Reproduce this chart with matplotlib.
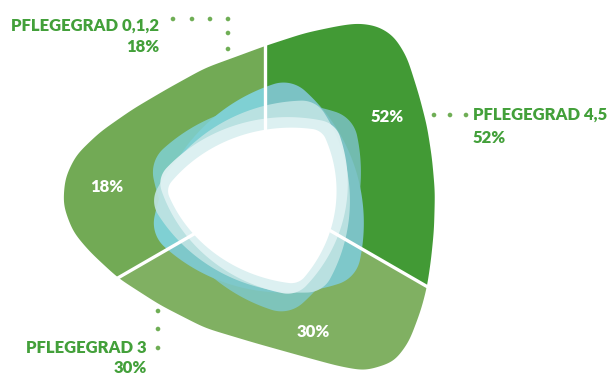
import numpy as np
import matplotlib
matplotlib.use("Agg")
import matplotlib.pyplot as plt
from matplotlib.patches import Polygon, Circle

# ---- data ----
categories = ["PFLEGEGRAD 0,1,2", "PFLEGEGRAD 4,5", "PFLEGEGRAD 3"]
values = [18, 52, 30]
seg_colors = ["#72aa55", "#429a35", "#80b062"]
teal_colors = ["#7fd0d3", "#7bc2c4", "#7ec8ca"]

W, H = 614, 376
fig = plt.figure(figsize=(W / 100, H / 100), dpi=100)
ax = fig.add_axes([0, 0, 1, 1])
ax.set_xlim(0, W)
ax.set_ylim(H, 0)
ax.axis("off")

FONT = ["Lato", "DejaVu Sans"]
WEIGHT = "heavy"
TXT = "#43a03a"
DOT = "#6fae55"
CX, CY = 265, 193


def smooth_contour(pts, sigma=9.0):
    p = np.asarray(pts, float)
    p = np.vstack([p, p[:1]])
    seg = np.hypot(*np.diff(p, axis=0).T)
    s = np.concatenate([[0], np.cumsum(seg)])
    L = s[-1]
    n = int(L)
    t = np.linspace(0, L, n, endpoint=False)
    x = np.interp(t, s, p[:, 0])
    y = np.interp(t, s, p[:, 1])
    k = np.arange(-int(4 * sigma), int(4 * sigma) + 1)
    g = np.exp(-0.5 * (k / sigma) ** 2)
    g /= g.sum()
    xs = np.array([np.dot(g, np.take(x, i + k, mode="wrap")) for i in range(n)])
    ys = np.array([np.dot(g, np.take(y, i + k, mode="wrap")) for i in range(n)])
    return np.column_stack([xs, ys])


def reuleaux(cx, cy, width, rho, phi, sx=1.0, sy=1.0):
    s = width - 2 * rho
    a = s / np.sqrt(3)
    betas = np.deg2rad(phi + 120 * np.arange(3))
    V = np.column_stack([a * np.cos(betas), a * np.sin(betas)])
    psi = np.linspace(0, 2 * np.pi, 720, endpoint=False)
    out = []
    for ps in psi:
        u = np.array([np.cos(ps), np.sin(ps)])
        d = (ps - betas + np.pi) % (2 * np.pi) - np.pi
        i = np.argmin(np.abs(d))
        if abs(d[i]) <= np.pi / 6:
            q = V[i] + rho * u
        else:
            d2 = (ps - betas) % (2 * np.pi) - np.pi
            j = np.argmin(np.abs(d2))
            q = V[j] + (s + rho) * u
        out.append(q)
    q = np.array(out)
    return np.column_stack([cx + sx * q[:, 0], cy - sy * q[:, 1]])


def wedge_clip(a0, a1):
    th = np.deg2rad(np.linspace(a0, a1, 60))
    wedge = np.vstack([[CX, CY], np.column_stack([CX + 600 * np.cos(th), CY - 600 * np.sin(th)])])
    return Polygon(wedge, closed=True, transform=ax.transData)


# outer contour of the ring (layout)
outer = [(265, 46), (305, 33), (338, 26), (358, 23), (378, 26), (394, 36), (407, 57),
         (419, 95), (427, 126), (432, 158), (435, 192), (434, 230), (431, 260),
         (427, 287), (421, 310), (409, 342), (394, 362), (365, 371), (338, 366),
         (305, 357), (255, 343), (205, 328), (160, 305), (118, 278), (90, 252),
         (73, 232), (63, 205), (65, 178), (76, 155), (100, 132), (133, 109),
         (167, 89), (205, 68), (238, 56)]
outer_xy = smooth_contour(outer, sigma=8)

# segment wedges: 18% from 90..210, 52% from -30..90, 30% from 210..330
seg_angles = [(90, 210), (-30, 90), (210, 330)]
teal_shapes = [reuleaux(266, 197, 210, 32, 78), reuleaux(264, 198, 208, 32, -78)]
for (a0, a1), col, tcol in zip(seg_angles, seg_colors, teal_colors):
    p = Polygon(outer_xy, closed=True, facecolor=col, edgecolor="none", zorder=1)
    ax.add_patch(p)
    p.set_clip_path(wedge_clip(a0, a1))
    for i, xy in enumerate(teal_shapes):
        tp = Polygon(xy, closed=True, facecolor=tcol, edgecolor="none",
                     alpha=1.0 if i == 0 else 0.85, zorder=2)
        ax.add_patch(tp)
        tp.set_clip_path(wedge_clip(a0, a1))

# lighter inner layers
layers = [
    (reuleaux(263, 198, 192, 26, 62, sx=1.02), "#bfe3e3", 0.92),
    (reuleaux(263, 199, 182, 24, 48, sx=1.03, sy=0.97), "#dff1f2", 0.95),
]
for xy, col, al in layers:
    ax.add_patch(Polygon(xy, closed=True, facecolor=col, edgecolor="none", alpha=al, zorder=2.5))

# separators
for a in (90, 210, 330):
    t = np.deg2rad(a)
    ax.plot([CX + 60 * np.cos(t), CX + 260 * np.cos(t)],
            [CY - 60 * np.sin(t), CY - 260 * np.sin(t)],
            color="white", lw=2.4, solid_capstyle="butt", zorder=3)

# white hole
ax.add_patch(Polygon(reuleaux(262, 201, 162, 16, 52, sx=1.04, sy=0.96), closed=True,
                     facecolor="white", edgecolor="none", zorder=4))

# percentages inside
inside_pos = [(107, 187), (387, 117), (313, 332)]
for (x, y), v in zip(inside_pos, values):
    ax.text(x, y, f"{v}%", color="white", fontsize=12, fontweight=WEIGHT,
            family=FONT, ha="center", va="center", zorder=5)

# outside labels
lab_pos = [(159, 26, "right", 21), (473, 115, "left", 23), (147, 348, "right", 20)]
for (x, y, ha, dy), c, v in zip(lab_pos, categories, values):
    ax.text(x, y, c, color=TXT, fontsize=12, fontweight=WEIGHT, family=FONT,
            ha=ha, va="center", zorder=5)
    ax.text(x, y + dy, f"{v}%", color=TXT, fontsize=12, fontweight=WEIGHT, family=FONT,
            ha=ha, va="center", zorder=5)

# dotted leaders
dots = [(173, 19), (192, 19), (210, 19), (228, 19), (228, 33), (228, 49),
        (434, 115), (450, 115), (466, 115),
        (158, 311), (158, 329), (158, 348)]
for x, y in dots:
    ax.add_patch(Circle((x, y), 2.3, facecolor=DOT, edgecolor="none", zorder=5))

fig.savefig("out.png", dpi=100)
